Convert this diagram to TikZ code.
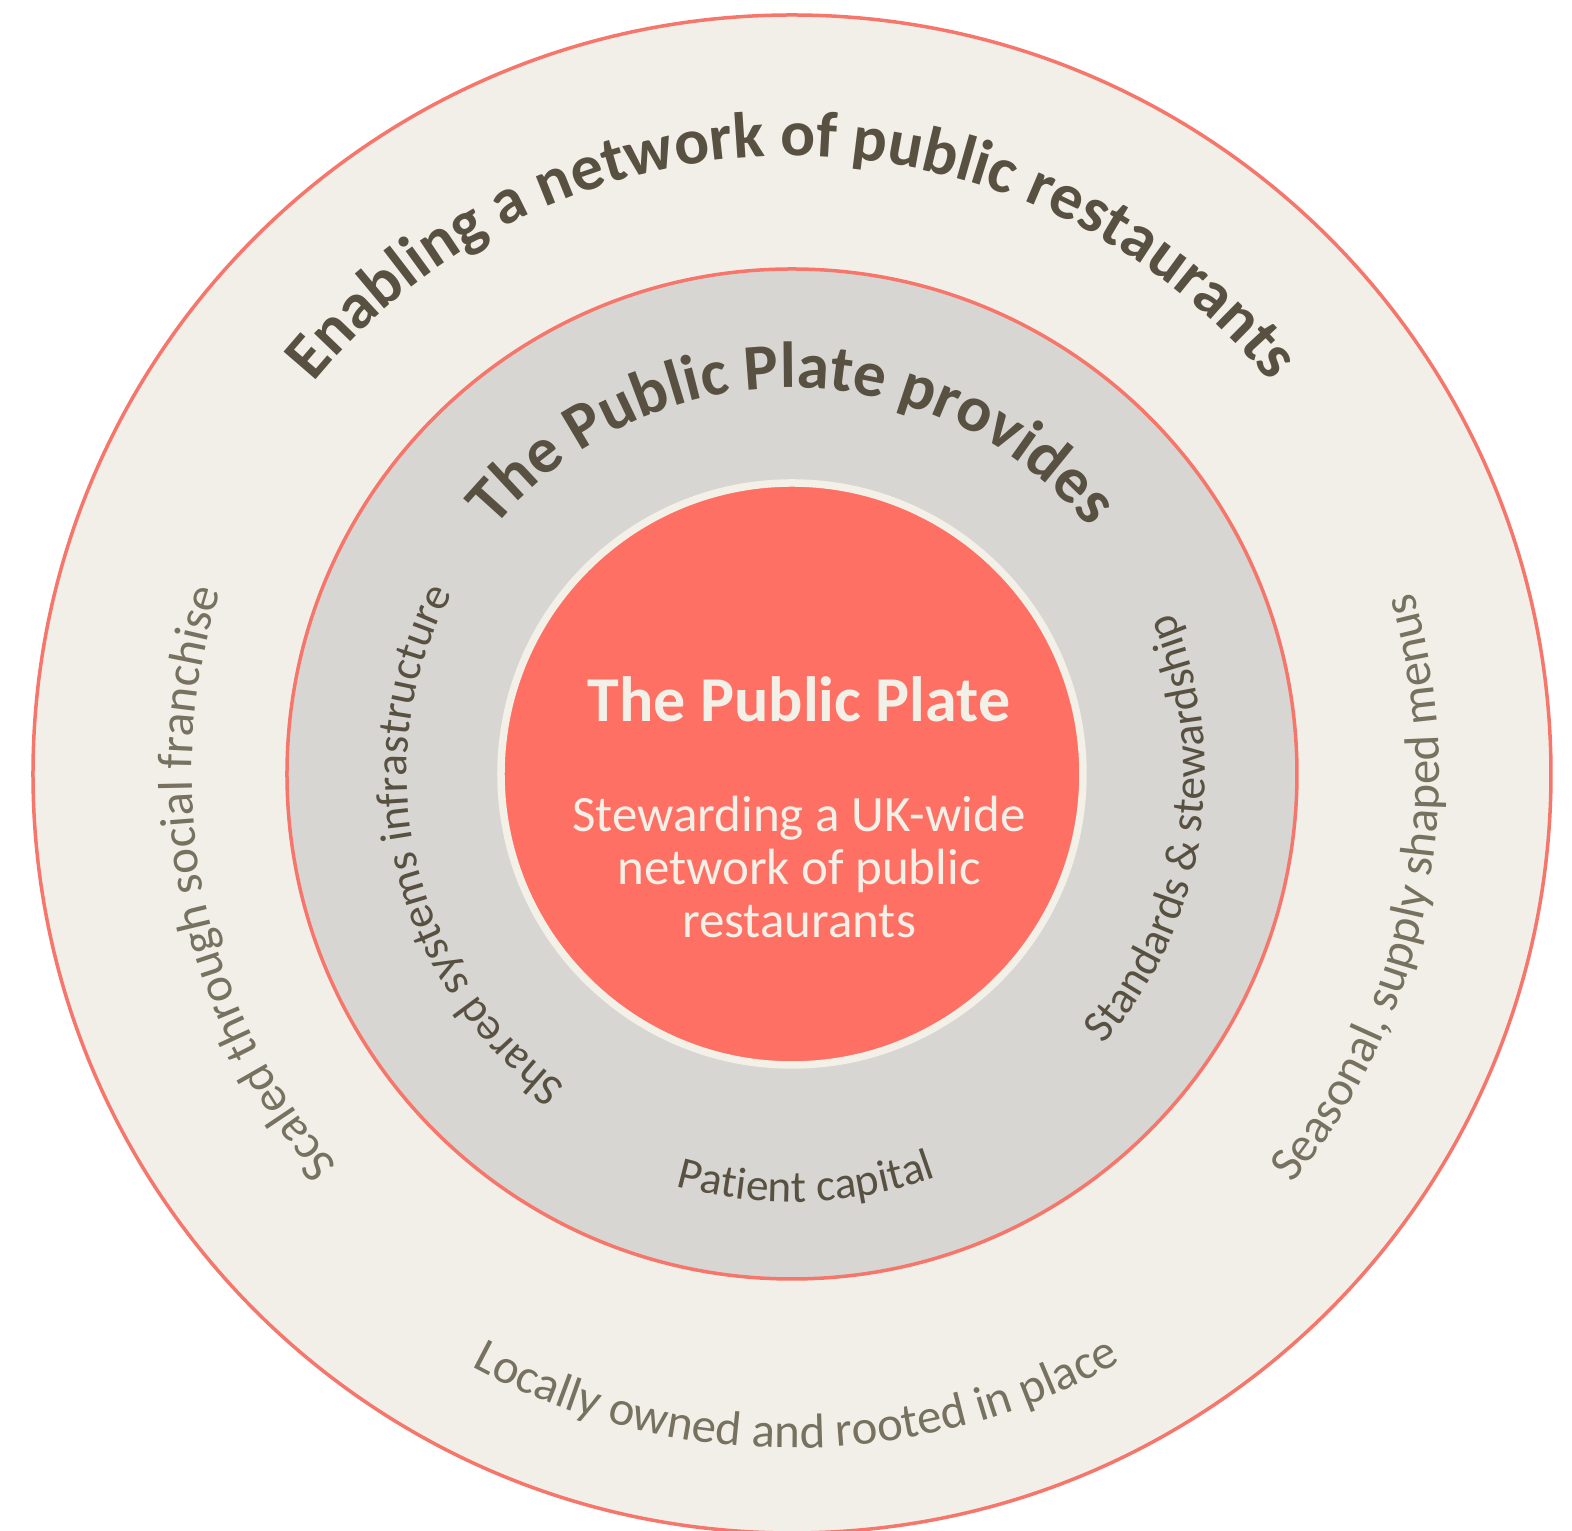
\documentclass[tikz,border=0pt]{standalone}
\usepackage{fontspec}
\setmainfont{Carlito}
\usetikzlibrary{decorations.text}

\definecolor{ringcream}{HTML}{F1EFE8}
\definecolor{ringgray}{HTML}{D8D6D2}
\definecolor{coral}{HTML}{F7766B}
\definecolor{platered}{HTML}{FF7064}
\definecolor{ink}{HTML}{585141}
\definecolor{inklight}{HTML}{77715F}
\definecolor{cream}{HTML}{F3F0E8}

\newcommand{\titlefont}{\fontsize{18.5}{20}\selectfont\bfseries}
\newcommand{\midfont}{\fontsize{12.9}{15}\selectfont}
\newcommand{\outfont}{\fontsize{13.9}{16}\selectfont}

\begin{document}
\begin{tikzpicture}[
	ring/.style={draw=coral, line width=0.035cm},
	arclabel/.style={decorate, decoration={text along path, text align=center, text color=#1}}]
	\useasboundingbox (-7.92,-7.57) rectangle (7.80,7.74);

	% rings
	\filldraw[ring, fill=ringcream] (0,0) circle[radius=7.59];
	\filldraw[ring, fill=ringgray] (0,0) circle[radius=5.05];
	\filldraw[draw=cream, line width=0.075cm, fill=platered] (0,0) circle[radius=2.91];

	% outer ring
	\path[arclabel=ink, decoration={text={|\titlefont|Enabling a network of public restaurants}}]
		(165:6.18) arc[start angle=165, end angle=15, radius=6.18];
	\path[arclabel=inklight, decoration={text={|\outfont|Scaled through social franchise}}]
		(255:6.00) arc[start angle=255, end angle=128, radius=6.00];
	\path[arclabel=inklight, decoration={text={|\outfont|Seasonal, supply shaped menus}}]
		(-75:6.47) arc[start angle=-75, end angle=52, radius=6.47];
	\path[arclabel=inklight, decoration={text={|\outfont|Locally owned and rooted in place}}]
		(220:6.74) arc[start angle=220, end angle=320.8, radius=6.74];

	% middle ring
	\path[arclabel=ink, decoration={text={|\titlefont|The Public Plate provides}}]
		(165:3.86) arc[start angle=165, end angle=15, radius=3.86];
	\path[arclabel=ink, decoration={text={|\midfont|Shared systems infrastructure}}]
		(250:3.85) arc[start angle=250, end angle=136, radius=3.85];
	\path[arclabel=ink, decoration={text={|\midfont|Standards {\&} stewardship}}]
		(-60:4.13) arc[start angle=-60, end angle=42, radius=4.13];
	\path[arclabel=ink, decoration={text={|\midfont|Patient capital}}]
		(240:4.28) arc[start angle=240, end angle=304, radius=4.28];

	% centre
	\node[font=\fontsize{18.2}{20}\selectfont\bfseries, text=cream, anchor=base] (core) at (0.07,0.52) {The Public Plate};
	\node[font=\fontsize{14.5}{15.1}\selectfont, text=cream, align=center, anchor=base] (mission) at (0.07,-1.64)
		{Stewarding a UK-wide\\network of public\\restaurants};
\end{tikzpicture}
\end{document}
